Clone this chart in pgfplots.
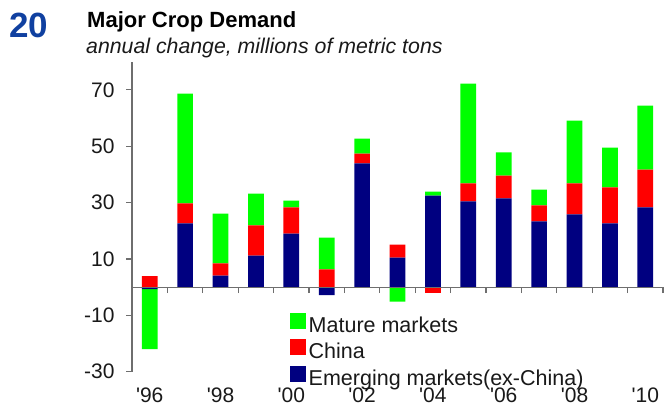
\documentclass[border=0pt]{standalone}
\usepackage{pgfplots}
\pgfplotsset{compat=1.18}
\usepackage{pgfplotstable}
\usepackage{fontspec}
\setmainfont{Liberation Sans}
\newfontfamily\lbl{Liberation Sans}[Ligatures=TeXOff]
\definecolor{matgreen}{RGB}{0,255,0}
\definecolor{chred}{RGB}{255,0,0}
\definecolor{emnavy}{RGB}{0,0,128}
\definecolor{numblue}{RGB}{16,64,160}
\definecolor{axgray}{RGB}{110,110,110}
\definecolor{txt}{RGB}{25,25,25}
\newcommand\tf{\lbl\fontsize{21bp}{21bp}\selectfont}

\pgfplotstableread{
x Ep Cp Mp En Cn Mn
0 0 3.9 0 -0.7 0 -21.3
1 22.6 7.1 39.0 0 0 0
2 4.1 4.3 17.7 0 0 0
3 11.2 10.7 11.3 0 0 0
4 19.0 9.3 2.4 0 0 0
5 0 6.3 11.3 -2.8 0 0
6 43.9 3.5 5.3 0 0 0
7 10.5 4.6 0 0 0 -5.1
8 32.5 0 1.4 0 -2.2 0
9 30.4 6.4 35.4 0 0 0
10 31.5 8.1 8.2 0 0 0
11 23.3 5.7 5.6 0 0 0
12 25.8 11.0 22.3 0 0 0
13 22.6 12.8 14.1 0 0 0
14 28.3 13.4 22.7 0 0 0
}\data

\pgfplotsset{common/.style={scale only axis, width=531bp, height=310bp,
  at={(132bp,34.3bp)}, anchor=south west,
  xmin=-0.5, xmax=14.5, ymin=-30, ymax=80,
  ybar stacked, bar width=15.7bp, clip=false}}

\begin{document}
\begin{tikzpicture}
\path[use as bounding box] (0,0) rectangle (666bp,406bp);
\node[anchor=base west, inner sep=0, text=numblue] at (9bp,368.5bp) {\fontsize{35bp}{35bp}\selectfont\bfseries 20};
\node[anchor=base west, inner sep=0, text=black] at (87bp,378.7bp) {\fontsize{22bp}{22bp}\selectfont\bfseries Major Crop Demand};
\node[anchor=base west, inner sep=0, text=txt] at (86bp,352.5bp) {\fontsize{21.3bp}{21.3bp}\selectfont\itshape annual change, millions of metric tons};

\begin{axis}[common,
  axis x line=bottom, axis y line=left,
  x axis line style={draw=none},
  y axis line style={-, draw=axgray, line width=1.2bp},
  xtick={0,2,...,14}, xticklabels={'96,'98,'00,'02,'04,'06,'08,'10},
  x tick style={draw=none},
  xticklabel style={font=\tf, text=txt, anchor=north, inner sep=0pt, yshift=-9.6bp},
  ytick={-30,-10,...,70}, yticklabels={-30,-10,10,30,50,70},
  yticklabel style={font=\tf, text=txt, anchor=east, inner sep=0pt, xshift=-11.3bp},
  y tick style={draw=axgray, line width=1.2bp},
  tick align=outside, major tick length=6bp,
  reverse legend, legend cell align=left,
  legend image code/.code={\fill[#1] (0bp,-2bp) rectangle (16bp,14bp);},
  legend style={at={(axis cs:3.955,-9.0)}, anchor=north west, draw=none, fill=none,
    inner sep=0pt, outer sep=0pt, row sep=2.9bp,
    font=\fontsize{21.5bp}{21.5bp}\selectfont, text=txt,
    nodes={inner sep=0pt, text height=15.5bp, text depth=4.5bp},
    /tikz/every odd column/.style={column sep=3bp}}]
\addplot[fill=emnavy, draw=none] table[x=x, y=Ep] {\data};
\addplot[fill=chred, draw=none] table[x=x, y=Cp] {\data};
\addplot[fill=matgreen, draw=none] table[x=x, y=Mp] {\data};
\legend{Emerging markets(ex-China), China, Mature markets}
\end{axis}

\begin{axis}[common, axis on top,
  axis y line=none, axis x line=middle,
  x axis line style={-, draw=axgray, line width=1.2bp},
  xtick={0.5,1.5,...,14.5}, xticklabel={\empty},
  ytick=\empty,
  tick align=outside, major tick length=6bp,
  x tick style={draw=axgray, line width=1.2bp}]
\addplot[fill=emnavy, draw=none] table[x=x, y=En] {\data};
\addplot[fill=chred, draw=none] table[x=x, y=Cn] {\data};
\addplot[fill=matgreen, draw=none] table[x=x, y=Mn] {\data};
\end{axis}
\end{tikzpicture}
\end{document}
